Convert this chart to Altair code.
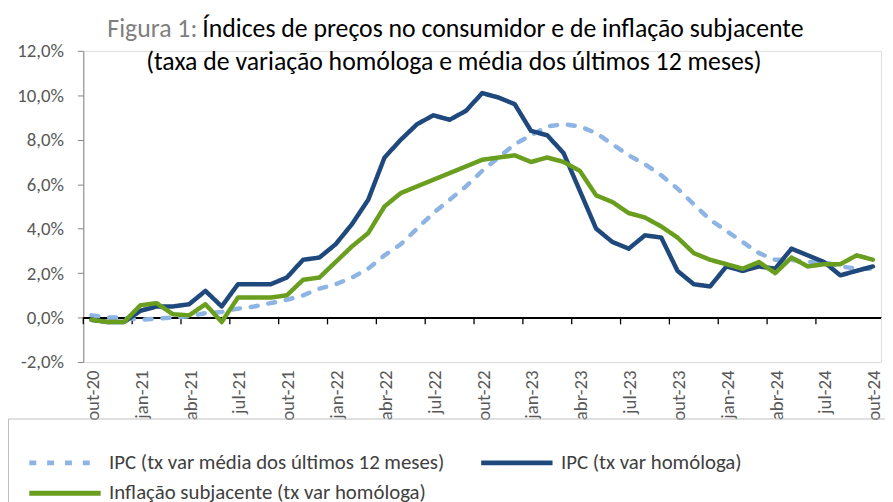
import json
import altair as alt
import pandas as pd

# ---------------- data ----------------
months = ["out-20", "nov-20", "dez-20", "jan-21", "fev-21", "mar-21", "abr-21", "mai-21", "jun-21",
          "jul-21", "ago-21", "set-21", "out-21", "nov-21", "dez-21", "jan-22", "fev-22", "mar-22",
          "abr-22", "mai-22", "jun-22", "jul-22", "ago-22", "set-22", "out-22", "nov-22", "dez-22",
          "jan-23", "fev-23", "mar-23", "abr-23", "mai-23", "jun-23", "jul-23", "ago-23", "set-23",
          "out-23", "nov-23", "dez-23", "jan-24", "fev-24", "mar-24", "abr-24", "mai-24", "jun-24",
          "jul-24", "ago-24", "set-24", "out-24"]

ipc_media12 = [0.1, 0.0, 0.0, -0.1, -0.05, 0.0, 0.05, 0.2, 0.25, 0.4, 0.5, 0.65, 0.8, 1.0, 1.3,
               1.5, 1.8, 2.2, 2.8, 3.3, 4.0, 4.7, 5.3, 5.9, 6.6, 7.2, 7.8, 8.2, 8.6, 8.7, 8.6, 8.3,
               7.8, 7.3, 6.9, 6.4, 5.8, 5.1, 4.4, 3.9, 3.4, 2.9, 2.6, 2.6, 2.5, 2.5, 2.3, 2.2, 2.2]

ipc_homologa = [-0.1, -0.2, -0.2, 0.3, 0.5, 0.5, 0.6, 1.2, 0.5, 1.5, 1.5, 1.5, 1.8, 2.6, 2.7,
                3.3, 4.2, 5.3, 7.2, 8.0, 8.7, 9.1, 8.9, 9.3, 10.1, 9.9, 9.6, 8.4, 8.2, 7.4, 5.7,
                4.0, 3.4, 3.1, 3.7, 3.6, 2.1, 1.5, 1.4, 2.3, 2.1, 2.3, 2.2, 3.1, 2.8, 2.5, 1.9,
                2.1, 2.3]

subjacente = [-0.1, -0.2, -0.2, 0.55, 0.65, 0.15, 0.1, 0.6, -0.2, 0.9, 0.9, 0.9, 1.0, 1.7, 1.8,
              2.5, 3.2, 3.8, 5.0, 5.6, 5.9, 6.2, 6.5, 6.8, 7.1, 7.2, 7.3, 7.0, 7.2, 7.0, 6.6, 5.5,
              5.2, 4.7, 4.5, 4.1, 3.6, 2.9, 2.6, 2.4, 2.2, 2.5, 2.0, 2.7, 2.3, 2.4, 2.4, 2.8, 2.6]

series_names = ["IPC (tx var média dos últimos 12 meses)",
                "IPC (tx var homóloga)",
                "Inflação subjacente (tx var homóloga)"]
series_colors = ["#8db4e2", "#1f497d", "#6a9e1f"]
series_dash = [[7, 11], [1, 0], [1, 0]]

y_ticks = [-2, 0, 2, 4, 6, 8, 10, 12]
x_label_idx = list(range(0, len(months), 3))
x_tick_bounds = [i - 0.5 for i in range(0, len(months) - 1, 3)]

title_prefix = "Figura 1:"
title_line1 = "Índices de preços no consumidor e de inflação subjacente"
title_line2 = "(taxa de variação homóloga e média dos últimos 12 meses)"

FONT = "Carlito, Lato, sans-serif"

# ---------------- tables ----------------
rows = []
for name, vals in zip(series_names, [ipc_media12, ipc_homologa, subjacente]):
    for i, v in enumerate(vals):
        rows.append({"idx": i, "mes": months[i], "serie": name, "valor": v,
                     "ordem": series_names.index(name)})
df = pd.DataFrame(rows)
ticks_df = pd.DataFrame({"b": x_tick_bounds})

W, H = 805, 314

x_scale = alt.Scale(domain=[-0.5, len(months) - 0.5], nice=False, zero=False)
y_scale = alt.Scale(domain=[-2, 12], nice=False, zero=False)

label_expr_x = json.dumps(months) + "[datum.value]"

x_enc = alt.X("idx:Q", scale=x_scale,
              axis=alt.Axis(values=x_label_idx, labelExpr=label_expr_x, labelAngle=270,
                            domain=False, ticks=False, grid=False, title=None,
                            labelPadding=8, labelFontSize=19, labelFont=FONT,
                            labelOffset=1, labelColor="#595959"))
y_enc = alt.Y("valor:Q", scale=y_scale,
              axis=alt.Axis(values=y_ticks, grid=False, title=None,
                            labelExpr="replace(replace(format(datum.value, '.1f'), '.', ','), '\u2212', '-') + '%'",
                            domainColor="#868686", tickColor="#868686", tickSize=6,
                            labelPadding=14, labelFontSize=19, labelFont=FONT,
                            labelColor="#595959"))

legend = alt.Legend(title=None, orient="none", legendX=-5, legendY=403, columns=2,
                    direction="horizontal", symbolType="M-6.2,0L1,0", symbolSize=400,
                    symbolStrokeWidth=5, symbolFillColor="transparent",
                    labelFontSize=21, labelFont=FONT,
                    labelColor="#404040", labelOffset=6, columnPadding=26, rowPadding=8,
                    padding=0, labelLimit=600)

lines = alt.Chart(df).mark_line(strokeWidth=4.5, strokeCap="round", strokeJoin="round").encode(
    x=x_enc,
    y=y_enc,
    color=alt.Color("serie:N", scale=alt.Scale(domain=series_names, range=series_colors),
                    legend=legend),
    strokeDash=alt.StrokeDash("serie:N", scale=alt.Scale(domain=series_names, range=series_dash),
                              legend=legend),
    order=alt.Order("ordem:Q"),
    detail="serie:N",
)

zero_line = alt.Chart(ticks_df).mark_rule(color="#000000", strokeWidth=1.3).encode(
    y=alt.datum(0, scale=y_scale)
)
zero_ticks = alt.Chart(ticks_df).mark_rule(color="#000000", strokeWidth=1.3).encode(
    x=alt.X("b:Q", scale=x_scale),
    y=alt.datum(0, scale=y_scale),
    y2=alt.value(276),
)

frame = alt.Chart(pd.DataFrame({"k": [0]})).mark_rect(
    fill="transparent", stroke="#bfbfbf", strokeWidth=1
).encode(x=alt.value(-75.5), x2=alt.value(900), y=alt.value(371.5), y2=alt.value(520))

t_df = pd.DataFrame({"a": [title_prefix], "b": [title_line1], "c": [title_line2]})
t_prefix = alt.Chart(t_df).mark_text(align="right", baseline="alphabetic", font=FONT,
                                     fontSize=26, color="#7f7f7f").encode(
    text="a:N", x=alt.value(115), y=alt.value(-14))
t_line1 = alt.Chart(t_df).mark_text(align="left", baseline="alphabetic", font=FONT,
                                    fontSize=26, color="#000000").encode(
    text="b:N", x=alt.value(120), y=alt.value(-14))
t_line2 = alt.Chart(t_df).mark_text(align="center", baseline="alphabetic", font=FONT,
                                    fontSize=26, color="#000000").encode(
    text="c:N", x=alt.value(374), y=alt.value(19))

chart = alt.layer(frame, zero_line, zero_ticks, lines, t_prefix, t_line1, t_line2).properties(
    width=W, height=H,
    autosize=alt.AutoSizeParams(type="none"),
    padding={"left": 76, "top": 41, "right": 4, "bottom": 139},
).configure_view(stroke=None).configure(background="white")

chart.save("out.html", embed_options={"renderer": "svg", "actions": False})
